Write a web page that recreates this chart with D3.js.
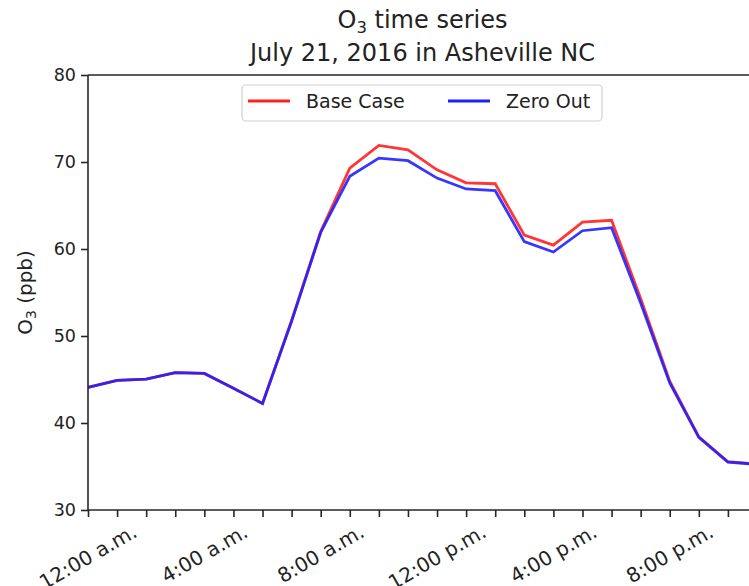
<!DOCTYPE html>
<html>
<head>
<meta charset="utf-8">
<script src="https://cdn.jsdelivr.net/npm/d3@7"></script>
<style>
  html, body { margin: 0; padding: 0; background: #fff; }
  svg { display: block; font-family: "DejaVu Sans", sans-serif; }
</style>
</head>
<body>
<svg id="chart" width="749" height="586"></svg>
<script>
// ---- data ----
const hours = d3.range(0, 24);
const baseCase = [44.1, 44.9, 45.05, 45.8, 45.7, 44.0, 42.25, 51.8, 62.0, 69.3, 71.9, 71.4,
                  69.1, 67.6, 67.5, 61.6, 60.45, 63.1, 63.3, 54.3, 44.8, 38.4, 35.55, 35.3];
const zeroOut  = [44.1, 44.9, 45.05, 45.8, 45.7, 44.0, 42.25, 51.7, 61.9, 68.35, 70.45, 70.15,
                  68.15, 66.9, 66.7, 60.85, 59.65, 62.1, 62.45, 53.8, 44.6, 38.35, 35.5, 35.25];
const seriesNames = ["Base Case", "Zero Out"];
const seriesColors = ["#ff2020", "#2020ff"];
const labelHours = [0, 4, 8, 12, 16, 20];
const labelTexts = ["12:00 a.m.", "4:00 a.m.", "8:00 a.m.", "12:00 p.m.", "4:00 p.m.", "8:00 p.m."];
const yTicks = [30, 40, 50, 60, 70, 80];

(function () {
// ---- layout ----
const svg = d3.select("#chart");
const mLeft = 88, mTop = 75, mBottom = 510, mRight = 757;
const x = d3.scaleLinear().domain([0, 23]).range([mLeft, mRight]);
const y = d3.scaleLinear().domain([30, 80]).range([mBottom, mTop]);
const axisColor = "#262626";

// lines
const line = d3.line().x((d, i) => x(hours[i])).y(d => y(d));
const seriesData = [baseCase, zeroOut];
seriesData.forEach((s, k) => {
  svg.append("path").datum(s)
    .attr("d", line)
    .attr("fill", "none")
    .attr("stroke", seriesColors[k])
    .attr("stroke-width", 2.8)
    .attr("stroke-linejoin", "miter")
    .attr("stroke-opacity", 0.9);
});

// spines
svg.append("line").attr("x1", mLeft).attr("x2", mRight + 5).attr("y1", mTop).attr("y2", mTop)
  .attr("stroke", axisColor).attr("stroke-width", 1.6);
svg.append("line").attr("x1", mLeft).attr("x2", mRight + 5).attr("y1", mBottom).attr("y2", mBottom)
  .attr("stroke", axisColor).attr("stroke-width", 1.6);
svg.append("line").attr("x1", mLeft).attr("x2", mLeft).attr("y1", mTop).attr("y2", mBottom)
  .attr("stroke", axisColor).attr("stroke-width", 1.6);

// y axis
const yAxis = d3.axisLeft(y).tickValues(yTicks).tickSize(7).tickPadding(5).tickFormat(d3.format("d"));
const gy = svg.append("g").attr("transform", `translate(${mLeft},0)`).call(yAxis);
gy.select(".domain").remove();
gy.selectAll(".tick line").attr("stroke", axisColor).attr("stroke-width", 1.6);
gy.selectAll(".tick text").attr("font-size", 17.5).attr("fill", "#222")
  .attr("font-family", "DejaVu Sans");

// x axis ticks (every hour)
const xAxis = d3.axisBottom(x).tickValues(hours).tickSize(7).tickFormat("");
const gx = svg.append("g").attr("transform", `translate(0,${mBottom})`).call(xAxis);
gx.select(".domain").remove();
gx.selectAll(".tick line").attr("stroke", axisColor).attr("stroke-width", 1.6);

// x tick labels rotated 30deg, centered bbox on tick (matplotlib style)
const fsX = 20;
const ang = 30 * Math.PI / 180;
labelHours.forEach((h, i) => {
  const t = svg.append("text").text(labelTexts[i])
    .attr("font-size", fsX).attr("fill", "#222")
    .attr("text-anchor", "middle").attr("dominant-baseline", "central");
  const w = t.node().getComputedTextLength();
  const th = fsX * 1.0;
  const bboxH = w * Math.sin(ang) + th * Math.cos(ang);
  const cy = mBottom + 7 + 4 + bboxH / 2;
  const cx = x(h);
  t.attr("transform", `translate(${cx},${cy}) rotate(-30)`);
});

// y label
const yl = svg.append("text").attr("transform", `translate(32,${(mTop + mBottom) / 2}) rotate(-90)`)
  .attr("text-anchor", "middle").attr("font-size", 20).attr("fill", "#222");
yl.append("tspan").text("O");
yl.append("tspan").text("3").attr("font-size", 14).attr("dy", 4);
yl.append("tspan").text(" (ppb)").attr("dy", -4);

// title
const cxT = (mLeft + mRight) / 2;
const t1 = svg.append("text").attr("x", cxT).attr("y", 28).attr("text-anchor", "middle")
  .attr("font-size", 24).attr("fill", "#222");
t1.append("tspan").text("O");
t1.append("tspan").text("3").attr("font-size", 16.5).attr("dy", 5);
t1.append("tspan").text(" time series").attr("dy", -5);
svg.append("text").attr("x", cxT).attr("y", 61).attr("text-anchor", "middle")
  .attr("font-size", 24).attr("fill", "#222").text("July 21, 2016 in Asheville NC");

// legend
const lg = svg.append("g");
lg.append("rect").attr("x", 242).attr("y", 85).attr("width", 360).attr("height", 36)
  .attr("rx", 4).attr("fill", "#fff").attr("fill-opacity", 0.8)
  .attr("stroke", "#d0d0d0").attr("stroke-width", 1.2);
const legX = [248, 448];
seriesNames.forEach((n, k) => {
  lg.append("line").attr("x1", legX[k]).attr("x2", legX[k] + 42).attr("y1", 101).attr("y2", 101)
    .attr("stroke", seriesColors[k]).attr("stroke-width", 2.8);
  lg.append("text").attr("x", legX[k] + 58).attr("y", 108).attr("font-size", 19)
    .attr("fill", "#222").text(n);
});
})();
</script>
</body>
</html>
